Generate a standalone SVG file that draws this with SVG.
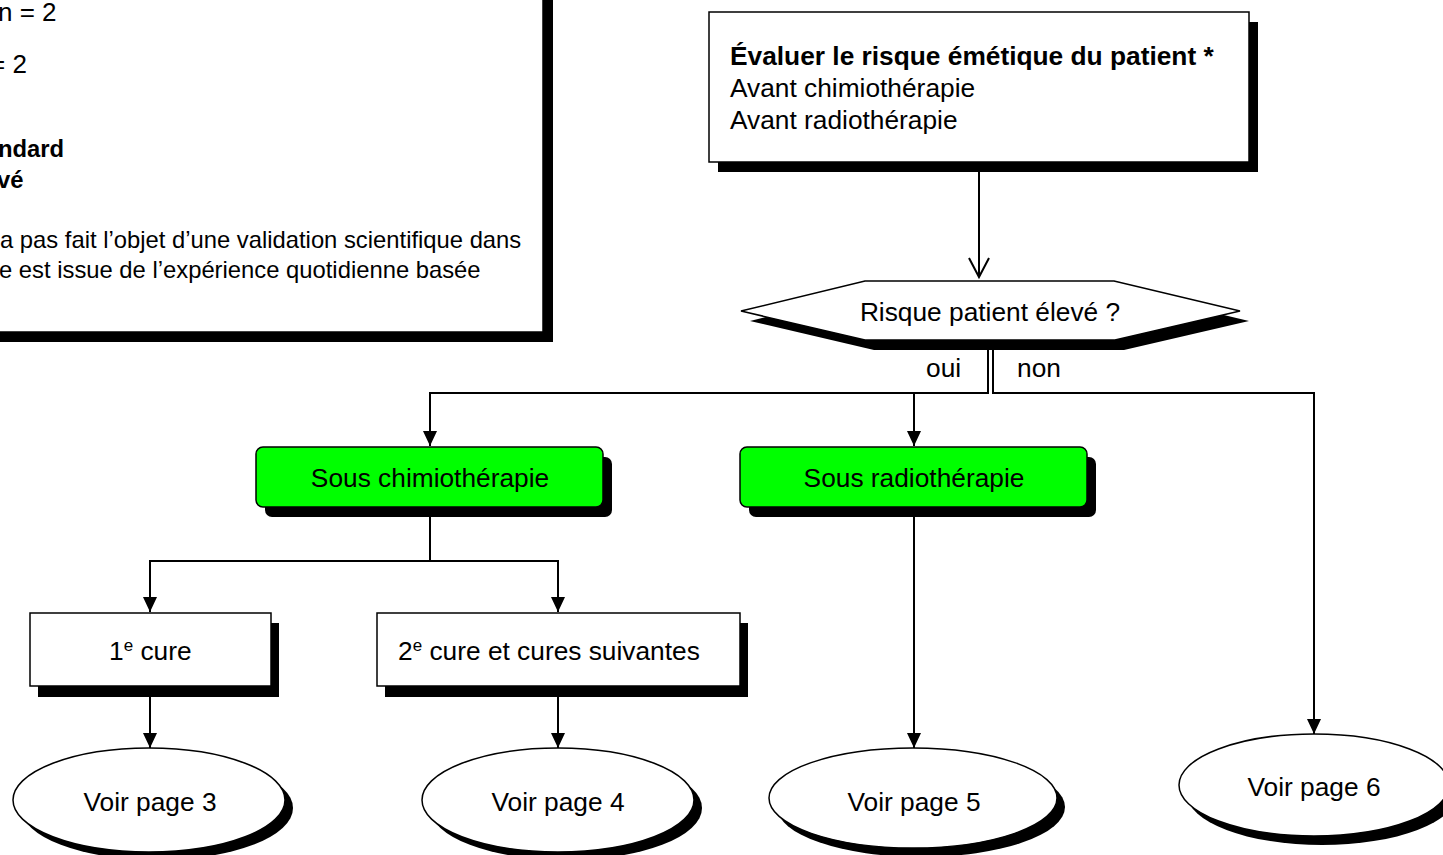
<svg xmlns="http://www.w3.org/2000/svg" width="1443" height="855" viewBox="0 0 1443 855">
  <style>
    text { font-family: "Liberation Sans", Arial, sans-serif; fill: #000; }
    .t26 { font-size: 26.3px; }
    .note { font-size: 23.8px; }
    .big { font-size: 26px; }
    .b { font-weight: bold; }
    .mid { text-anchor: middle; }
    .box { fill: #fff; stroke: #000; stroke-width: 1.5; }
    .green { fill: #00ff00; stroke: #000; stroke-width: 1.5; }
    .shadow { fill: #000; stroke: none; }
    .wire { fill: none; stroke: #000; stroke-width: 2; }
  </style>
  <defs>
    <marker id="arrow" markerUnits="userSpaceOnUse" markerWidth="16" markerHeight="15" refX="15" refY="7" orient="auto">
      <path d="M0,0 L15,7 L0,14 z" fill="#000"/>
    </marker>
  </defs>

  <rect width="1443" height="855" fill="#fff"/>

  <!-- legend box (partly outside the page) -->
  <g id="legend">
    <rect class="shadow" x="0" y="0" width="553" height="342"/>
    <rect class="box" x="-10" y="-10" width="553" height="342"/>
    <text class="big" x="-2" y="21">n = 2</text>
    <text class="big" x="-10" y="73">= 2</text>
    <text class="note b" x="-2" y="157">ndard</text>
    <text class="note b" x="-3" y="188">vé</text>
    <text class="note" x="0" y="248">a pas fait l’objet d’une validation scientifique dans</text>
    <text class="note" x="-1" y="278">e est issue de l’expérience quotidienne basée</text>
  </g>

  <!-- connectors -->
  <g id="connectors">
    <path class="wire" d="M979,172 V277"/>
    <path class="wire" d="M969,258 L979,277 L989,258"/>
    <path class="wire" d="M988,350 V393 H430 V446" marker-end="url(#arrow)"/>
    <path class="wire" d="M914,393 V446" marker-end="url(#arrow)"/>
    <path class="wire" d="M993,350 V393 H1314 V734" marker-end="url(#arrow)"/>
    <path class="wire" d="M430,517 V561 H150 V612" marker-end="url(#arrow)"/>
    <path class="wire" d="M430,561 H558 V612" marker-end="url(#arrow)"/>
    <path class="wire" d="M150,697 V748" marker-end="url(#arrow)"/>
    <path class="wire" d="M558,697 V748" marker-end="url(#arrow)"/>
    <path class="wire" d="M914,517 V748" marker-end="url(#arrow)"/>
  </g>

  <g id="evaluer">
    <rect class="shadow" x="718" y="22" width="540" height="150"/>
    <rect class="box" x="709" y="12" width="540" height="150"/>
    <text class="t26 b" x="730" y="65">Évaluer le risque émétique du patient *</text>
    <text class="t26" x="730" y="97">Avant chimiothérapie</text>
    <text class="t26" x="730" y="129">Avant radiothérapie</text>
  </g>

  <g id="risque">
    <polygon class="shadow" points="750,321 874,291 1123,291 1249,321 1124,350 874,350"/>
    <polygon class="box" stroke-width="2" points="741,311 865,281 1114,281 1240,311 1115,340 865,340"/>
    <text class="t26 mid" x="990" y="321">Risque patient élevé ?</text>
  </g>

  <g id="labels">
    <text class="t26" x="926" y="377">oui</text>
    <text class="t26" x="1017" y="377">non</text>
  </g>

  <g id="sous-chimio">
    <rect class="shadow" x="265" y="457" width="347" height="60" rx="7"/>
    <rect class="green" x="256" y="447" width="347" height="60" rx="7"/>
    <text class="t26 mid" x="430" y="487">Sous chimiothérapie</text>
  </g>

  <g id="sous-radio">
    <rect class="shadow" x="749" y="457" width="347" height="60" rx="7"/>
    <rect class="green" x="740" y="447" width="347" height="60" rx="7"/>
    <text class="t26 mid" x="914" y="487">Sous radiothérapie</text>
  </g>

  <g id="cure1">
    <rect class="shadow" x="38" y="623" width="241" height="74"/>
    <rect class="box" x="30" y="613" width="241" height="73"/>
    <text class="t26" x="109" y="660">1<tspan font-size="17" dy="-9">e</tspan><tspan dy="9"> cure</tspan></text>
  </g>

  <g id="cure2">
    <rect class="shadow" x="385" y="623" width="363" height="74"/>
    <rect class="box" x="377" y="613" width="363" height="73"/>
    <text class="t26" x="398" y="660">2<tspan font-size="17" dy="-9">e</tspan><tspan dy="9"> cure et cures suivantes</tspan></text>
  </g>

  <g id="page3">
    <ellipse class="shadow" cx="157" cy="808" rx="136" ry="52"/>
    <ellipse class="box" cx="149" cy="800" rx="136" ry="52"/>
    <text class="t26 mid" x="150" y="811">Voir page 3</text>
  </g>

  <g id="page4">
    <ellipse class="shadow" cx="566" cy="808" rx="136" ry="52"/>
    <ellipse class="box" cx="558" cy="800" rx="136" ry="52"/>
    <text class="t26 mid" x="558" y="811">Voir page 4</text>
  </g>

  <g id="page5">
    <ellipse class="shadow" cx="921" cy="807" rx="144" ry="50"/>
    <ellipse class="box" cx="913" cy="798" rx="144" ry="50"/>
    <text class="t26 mid" x="914" y="811">Voir page 5</text>
  </g>

  <g id="page6">
    <ellipse class="shadow" cx="1322" cy="794" rx="135" ry="51"/>
    <ellipse class="box" cx="1314" cy="785" rx="135" ry="51"/>
    <text class="t26 mid" x="1314" y="796">Voir page 6</text>
  </g>
</svg>
